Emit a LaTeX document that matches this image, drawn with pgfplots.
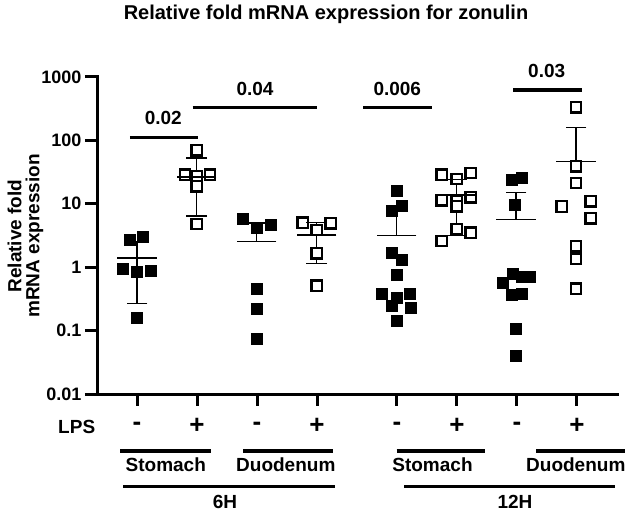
\documentclass[border=0pt]{standalone}
\usepackage{fontspec}
\setmainfont{Liberation Sans}
\usepackage{pgfplots}
\pgfplotsset{compat=1.18}
\newcommand{\lab}{\fontsize{19}{19}\selectfont\bfseries}
\newcommand{\tlab}{\fontsize{18}{18}\selectfont\bfseries}
\newcommand{\pmlab}{\fontsize{26}{26}\selectfont\bfseries}
\begin{document}
\begin{tikzpicture}
\useasboundingbox (0pt,0pt) rectangle (629pt,512pt);
\begin{axis}[
    at={(97pt,118pt)}, anchor=south west,
    scale only axis, width=520pt, height=317pt,
    xmin=0.3333, xmax=9,
    ymode=log, ymin=0.01, ymax=1000,
    axis lines*=left,
    axis line style={line width=3pt, line cap=rect},
    tick style={line width=3pt, black},
    tick align=outside, major tick length=12pt,
    yminorticks=false,
    xtick={1,2,3,4,5.3333,6.3333,7.3333,8.3333},
    xticklabels={-,+,-,+,-,+,-,+},
    ytick={0.01,0.1,1,10,100,1000},
    yticklabels={0.01,0.1,1,10,100,1000},
    xticklabel style={font=\pmlab, anchor=center, yshift=-20pt},
    yticklabel style={font=\tlab},
    clip=false,
    filled/.style={only marks, mark=square*, mark size=5.2pt,
        mark options={fill=black, draw=black, line width=1.6pt}},
    open/.style={only marks, mark=square*, mark size=5.2pt,
        mark options={fill=white, draw=black, line width=2.3pt}},
    meanbar/.style={only marks, mark=-, mark size=19.7pt, mark options={line width=1.3pt}},
    capbar/.style={only marks, mark=-, mark size=10.3pt, mark options={line width=1.3pt}},
    sdline/.style={line width=1.3pt, mark=none},
]
% 6H stomach, LPS -
\addplot[filled] coordinates {(0.883,2.68) (1.105,3.0) (0.762,0.93) (1.005,0.83) (1.228,0.86) (1.0,0.16)};
\addplot[sdline] coordinates {(1,0.27) (1,2.5)};
\addplot[capbar] coordinates {(1,0.27) (1,2.5)};
\addplot[meanbar] coordinates {(1,1.39)};
% 6H stomach, LPS +
\addplot[open] coordinates {(1.995,70) (1.8,28.8) (2.217,28.8) (1.995,27.0) (1.995,18.8) (1.995,4.8)};
\addplot[sdline] coordinates {(1.995,6.45) (1.995,53)};
\addplot[capbar] coordinates {(1.995,6.45) (1.995,53)};
\addplot[meanbar] coordinates {(1.995,26.5)};
% 6H duodenum, LPS -
\addplot[filled] coordinates {(2.762,5.7) (2.995,4.1) (3.228,4.6) (2.995,0.45) (2.995,0.22) (2.995,0.073)};
\addplot[sdline] coordinates {(2.995,2.52) (2.995,5.0)};
\addplot[capbar] coordinates {(2.995,5.0)};
\addplot[meanbar] coordinates {(2.995,2.52)};
% 6H duodenum, LPS +
\addplot[open] coordinates {(3.762,5.05) (4.228,4.94) (3.995,3.86) (3.995,1.65) (3.995,0.51)};
\addplot[sdline] coordinates {(3.995,1.14) (3.995,5.05)};
\addplot[capbar] coordinates {(3.995,1.14) (3.995,5.05)};
\addplot[meanbar] coordinates {(3.995,3.22)};
% 12H stomach, LPS -
\addplot[filled] coordinates {(5.328,15.7) (5.245,7.8) (5.412,9.3) (5.245,1.69) (5.412,1.32) (5.328,0.75)
    (5.078,0.38) (5.55,0.38) (5.328,0.33) (5.245,0.24) (5.56,0.23) (5.328,0.14)};
\addplot[sdline] coordinates {(5.328,3.14) (5.328,8.2)};
\addplot[capbar] coordinates {(5.328,8.2)};
\addplot[meanbar] coordinates {(5.328,3.14)};
% 12H stomach, LPS +
\addplot[open] coordinates {(6.078,28.8) (6.328,24.7) (6.562,30.7) (6.078,11.3) (6.328,10.9) (6.328,9.1)
    (6.562,12.6) (6.328,3.96) (6.562,3.5) (6.078,2.6)};
\addplot[sdline] coordinates {(6.328,3.2) (6.328,24.4)};
\addplot[capbar] coordinates {(6.328,3.2) (6.328,24.4)};
\addplot[meanbar] coordinates {(6.328,13.8)};
% 12H duodenum, LPS -
\addplot[filled] coordinates {(7.245,23.4) (7.412,25.6) (7.3,9.6) (7.105,0.56) (7.27,0.79) (7.41,0.70)
    (7.55,0.70) (7.245,0.36) (7.41,0.38) (7.317,0.106) (7.317,0.040)};
\addplot[sdline] coordinates {(7.317,5.6) (7.317,15.1)};
\addplot[capbar] coordinates {(7.317,15.1)};
\addplot[meanbar] coordinates {(7.317,5.6)};
% 12H duodenum, LPS +
\addplot[open] coordinates {(8.317,331) (8.317,39.1) (8.317,21.3) (8.078,9.06) (8.562,10.9) (8.562,5.93)
    (8.317,2.15) (8.317,1.36) (8.317,0.46)};
\addplot[sdline] coordinates {(8.317,46.9) (8.317,158)};
\addplot[capbar] coordinates {(8.317,158)};
\addplot[meanbar] coordinates {(8.317,46.9)};
% p-values
\draw[line width=3.5pt] (axis cs:0.883,112) -- (axis cs:2.022,112);
\node[font=\lab, anchor=base, yshift=12.3pt] at (axis cs:1.438,112) {0.02};
\draw[line width=3.5pt] (axis cs:1.928,328) -- (axis cs:4.005,328);
\node[font=\lab, anchor=base, yshift=12.3pt] at (axis cs:2.967,328) {0.04};
\draw[line width=3.5pt] (axis cs:4.772,328) -- (axis cs:5.912,328);
\node[font=\lab, anchor=base, yshift=12.3pt] at (axis cs:5.338,328) {0.006};
\draw[line width=3.5pt] (axis cs:7.272,624) -- (axis cs:8.412,624);
\node[font=\lab, anchor=base, yshift=12.3pt] at (axis cs:7.828,624) {0.03};
\end{axis}
% title and y label
\node[font=\fontsize{20}{20}\selectfont\bfseries, anchor=base] at (326pt,492.7pt)
    {Relative fold mRNA expression for zonulin};
\node[font=\fontsize{19}{18}\selectfont\bfseries, align=center, rotate=90, anchor=center]
    at (25.5pt,276pt) {Relative fold\\mRNA expression};
% group labels under the axis
\node[font=\lab, anchor=base] at (76.7pt,78.5pt) {LPS};
\draw[line width=3.5pt] (120pt,61pt) -- (210.7pt,61pt);
\draw[line width=3.5pt] (243.3pt,61pt) -- (333.3pt,61pt);
\draw[line width=3.5pt] (396.7pt,61pt) -- (485pt,61pt);
\draw[line width=3.5pt] (536pt,61pt) -- (625pt,61pt);
\node[font=\lab, anchor=base] at (165.8pt,40.2pt) {Stomach};
\node[font=\lab, anchor=base] at (285.8pt,40.2pt) {Duodenum};
\node[font=\lab, anchor=base] at (432.5pt,40.2pt) {Stomach};
\node[font=\lab, anchor=base] at (575.8pt,40.2pt) {Duodenum};
\draw[line width=3.5pt] (123.3pt,25.3pt) -- (335pt,25.3pt);
\draw[line width=3.5pt] (404pt,25.3pt) -- (615pt,25.3pt);
\node[font=\lab, anchor=base] at (225pt,3.5pt) {6H};
\node[font=\lab, anchor=base] at (515pt,3.5pt) {12H};
\end{tikzpicture}
\end{document}
